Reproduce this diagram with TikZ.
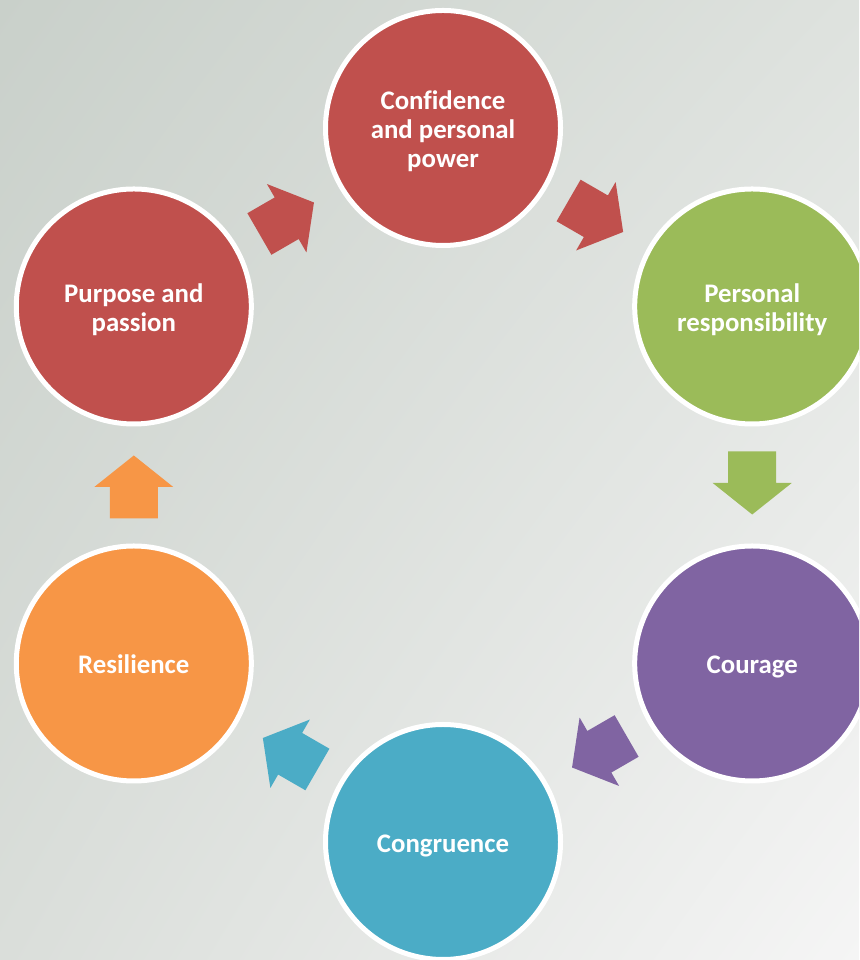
\documentclass[tikz,border=0pt]{standalone}
\usepackage{fontspec}
\setmainfont{Carlito}[Ligatures=NoCommon]
\usetikzlibrary{calc,shadings}

\definecolor{cRed}{RGB}{192,80,77}
\definecolor{cGreen}{RGB}{155,187,89}
\definecolor{cPurple}{RGB}{128,100,162}
\definecolor{cBlue}{RGB}{75,172,198}
\definecolor{cOrange}{RGB}{247,150,70}
\definecolor{bgUL}{RGB}{201,208,202}
\definecolor{bgUR}{RGB}{222,226,222}
\definecolor{bgLL}{RGB}{218,222,218}
\definecolor{bgLR}{RGB}{245,245,245}

\tikzset{
  stage/.style={circle, draw=white, line width=5pt, minimum size=235pt,
    inner sep=0pt},
  stagetext/.style={align=center, text=white, inner sep=0pt,
    font=\fontsize{26.8}{29}\selectfont\bfseries},
  pics/blockarrow/.style={code={
    \path[pic actions] (-33.5,24) -- (-2,24) -- (-2,39.5) -- (29.5,0)
      -- (-2,-39.5) -- (-2,-24) -- (-33.5,-24) -- cycle;}}
}

\begin{document}
\begin{tikzpicture}[x=1pt,y=1pt]
  \useasboundingbox (0,0) rectangle (859,960);
  \clip (0,0) rectangle (859,960);
  % soft grey background
  \shade[upper left=bgUL, upper right=bgUR, lower left=bgLL, lower right=bgLR]
    (0,0) rectangle (859,960);

  % six stages on a hexagon around (443,475)
  \node[stage, fill=cRed]    (top)     at (443,832)     {};
  \node[stage, fill=cGreen]  (resp)    at (752.2,653.5) {};
  \node[stage, fill=cPurple] (courage) at (752.2,296.5) {};
  \node[stage, fill=cBlue]   (congr)   at (443,118)     {};
  \node[stage, fill=cOrange] (resil)   at (133.8,296.5) {};
  \node[stage, fill=cRed]    (purpose) at (133.8,653.5) {};

  % stage labels, set a little below the centre
  \node[stagetext] (top-t)     at ($(top)+(0,-3)$)     {Confidence\\and personal\\power};
  \node[stagetext] (resp-t)    at ($(resp)+(0,-3.5)$)  {Personal\\responsibility};
  \node[stagetext] (courage-t) at ($(courage)+(0,-3.5)$) {Courage};
  \node[stagetext] (congr-t)   at ($(congr)+(0,-4)$)   {Congruence};
  \node[stagetext] (resil-t)   at ($(resil)+(0,-1)$)   {Resilience};
  \node[stagetext] (purpose-t) at ($(purpose)+(0,-3.5)$) {Purpose and\\passion};

  % block arrows halfway between consecutive stages
  \coordinate (m1) at ($(top)!0.5!(resp)$);
  \coordinate (m2) at ($(resp)!0.5!(courage)$);
  \coordinate (m3) at ($(courage)!0.5!(congr)$);
  \coordinate (m4) at ($(congr)!0.5!(resil)$);
  \coordinate (m5) at ($(resil)!0.5!(purpose)$);
  \coordinate (m6) at ($(purpose)!0.5!(top)$);

  \pic[fill=cRed,    rotate=-30]  at (m1) {blockarrow};
  \pic[fill=cGreen,  rotate=-90]  at (m2) {blockarrow};
  \pic[fill=cPurple, rotate=-150] at (m3) {blockarrow};
  \pic[fill=cBlue,   rotate=150]  at (m4) {blockarrow};
  \pic[fill=cOrange, rotate=90]   at (m5) {blockarrow};
  \pic[fill=cRed,    rotate=30]   at (m6) {blockarrow};
\end{tikzpicture}
\end{document}
